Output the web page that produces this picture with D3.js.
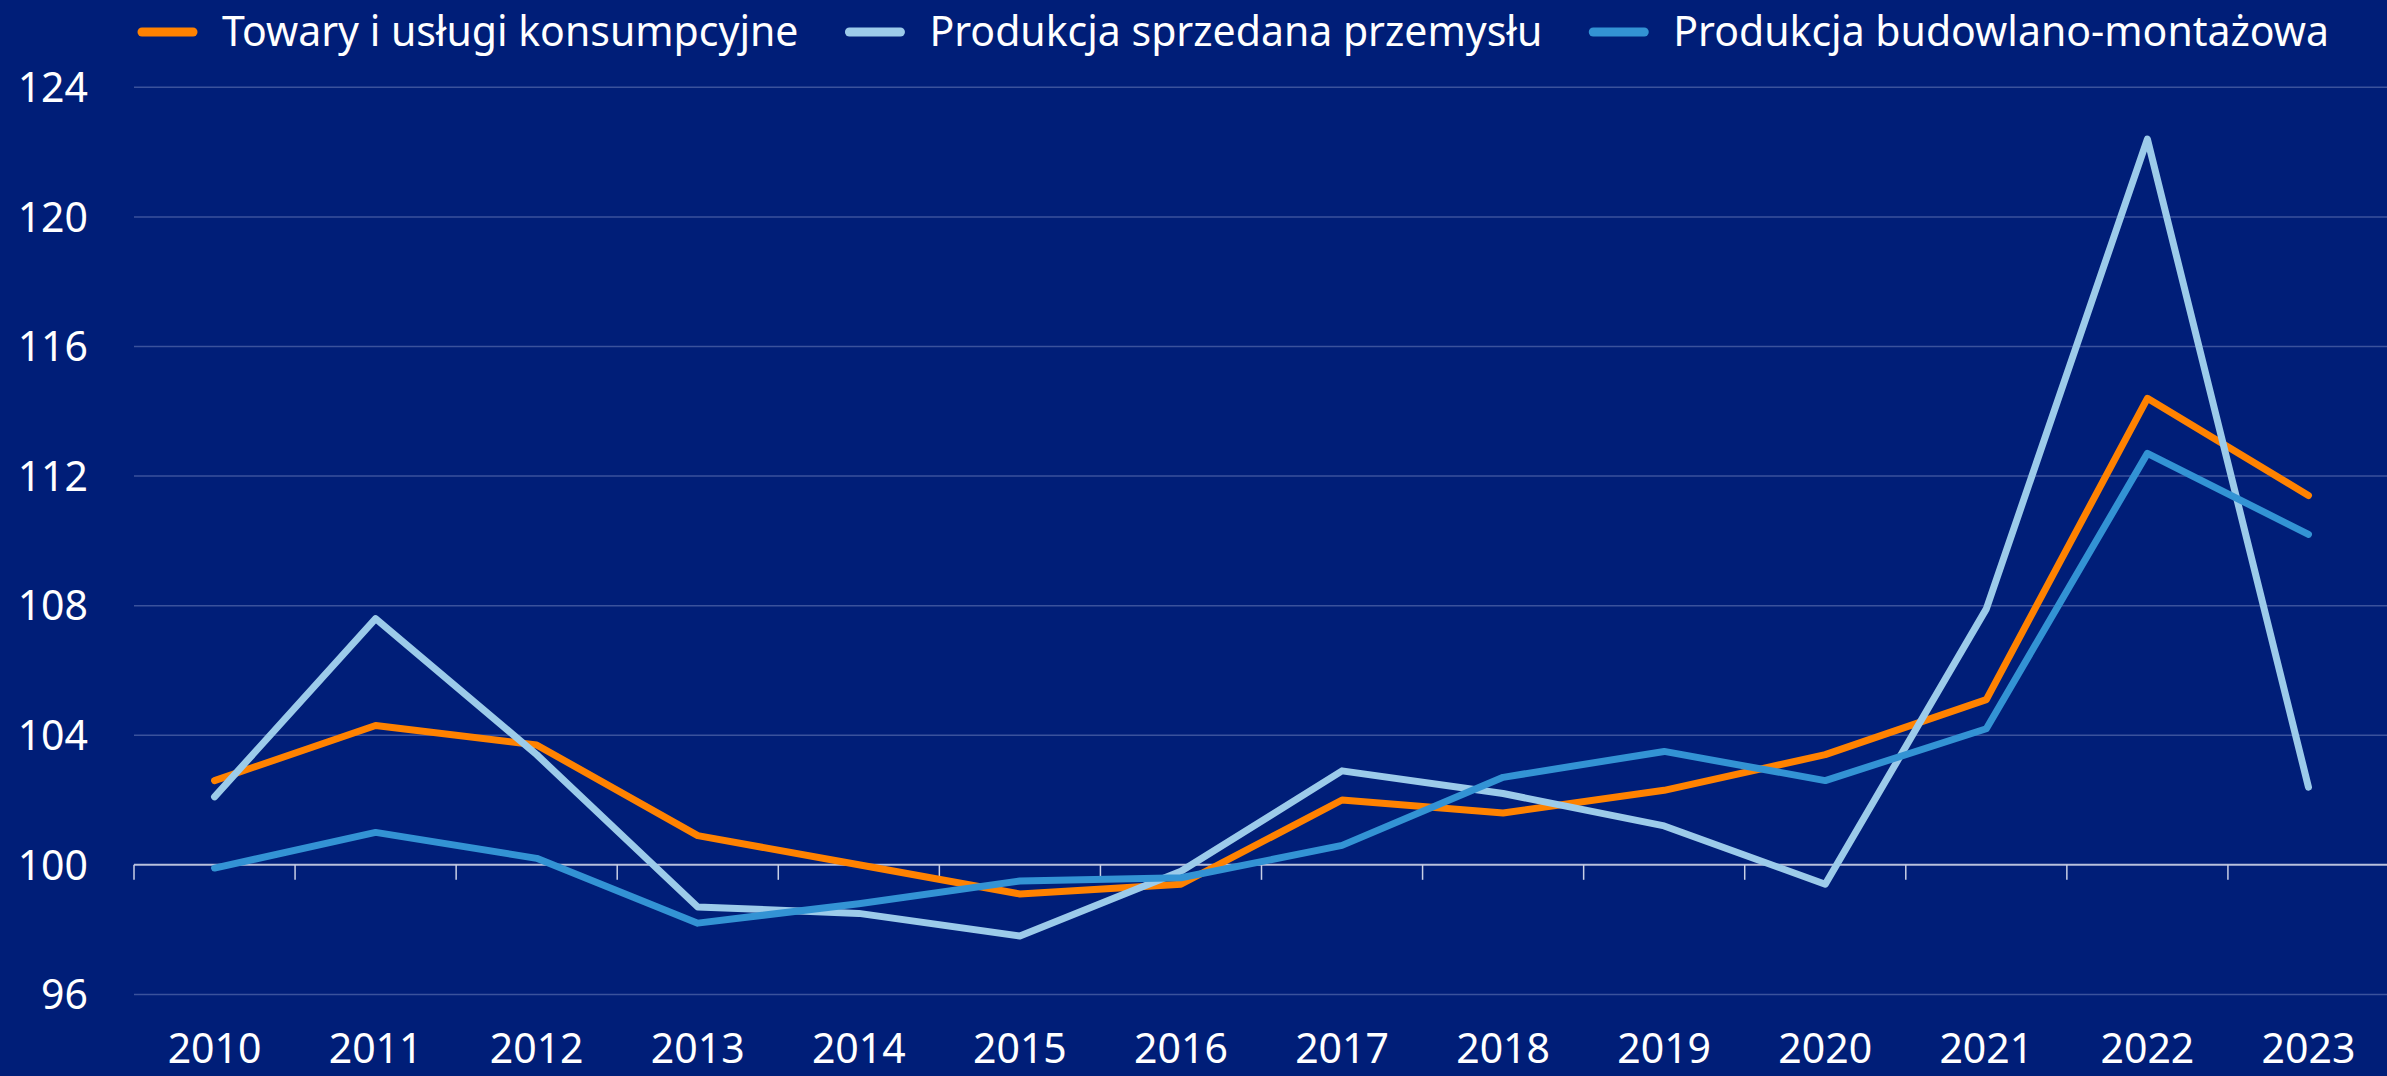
<!DOCTYPE html>
<html>
<head>
<meta charset="utf-8">
<script src="https://cdn.jsdelivr.net/npm/d3@7"></script>
<style>
    html, body { margin: 0; padding: 0; background: #001e78; }
    svg { display: block; }
    text { font-family: "Noto Sans", sans-serif; fill: #ffffff; }
</style>
</head>
<body>
<div id="chart"></div>
<script>
// Years on the x axis
const years = ['2010', '2011', '2012', '2013', '2014', '2015', '2016',
    '2017', '2018', '2019', '2020', '2021', '2022', '2023'];

// Series values (previous year = 100)
const towary = [102.6, 104.3, 103.7, 100.9, 100.0, 99.1, 99.4, 102.0, 101.6, 102.3, 103.4, 105.1, 114.4, 111.4];
const przemysl = [102.1, 107.6, 103.4, 98.7, 98.5, 97.8, 99.8, 102.9, 102.2, 101.2, 99.4, 107.9, 122.4, 102.4];
const budowlano = [99.9, 101.0, 100.2, 98.2, 98.8, 99.5, 99.6, 100.6, 102.7, 103.5, 102.6, 104.2, 112.7, 110.2];

const seriesNames = ['Towary i usługi konsumpcyjne', 'Produkcja sprzedana przemysłu', 'Produkcja budowlano-montażowa'];
const seriesColors = ['#ff8200', '#9ccbea', '#3393d4'];

// Y axis tick labels
const yTicks = [96, 100, 104, 108, 112, 116, 120, 124];

const width = 2387;
const height = 1076;

const svg = d3.select("#chart")
    .append("svg")
    .attr("width", width)
    .attr("height", height);

const x = d3.scaleBand()
    .domain(years)
    .range([134, 2389]);

const y = d3.scaleLinear()
    .domain([96, 124])
    .range([994.4, 87.3]);

// Grid lines
svg.append("g")
    .selectAll("line")
    .data(yTicks.filter(d => d !== 100))
    .enter()
    .append("line")
    .attr("x1", 134)
    .attr("x2", width)
    .attr("y1", d => y(d))
    .attr("y2", d => y(d))
    .attr("stroke", "#3a529c")
    .attr("stroke-width", 1.5);

// Y labels
svg.append("g")
    .selectAll("text")
    .data(yTicks)
    .enter()
    .append("text")
    .attr("x", 88)
    .attr("y", d => y(d))
    .attr("dy", "0.36em")
    .attr("text-anchor", "end")
    .style("font-size", "41px")
    .text(d => d);

// Category axis sits on the 100 line
const xAxis = svg.append("g")
    .attr("transform", "translate(0," + y(100) + ")");

xAxis.append("line")
    .attr("x1", 134)
    .attr("x2", width)
    .attr("stroke", "#b9c1dc")
    .attr("stroke-width", 2);

xAxis.selectAll(".tick")
    .data(years.concat(['end']))
    .enter()
    .append("line")
    .attr("class", "tick")
    .attr("x1", function (d, i) { return i < years.length ? x(d) : x.range()[1]; })
    .attr("x2", function (d, i) { return i < years.length ? x(d) : x.range()[1]; })
    .attr("y1", 0)
    .attr("y2", 15)
    .attr("stroke", "#c8cfe6")
    .attr("stroke-width", 1.5);

// X labels at the bottom
svg.append("g")
    .selectAll("text")
    .data(years)
    .enter()
    .append("text")
    .attr("x", d => x(d) + x.bandwidth() / 2)
    .attr("y", 1063)
    .attr("text-anchor", "middle")
    .style("font-size", "41px")
    .text(d => d);

// Lines
const allSeries = [towary, przemysl, budowlano];

const line = d3.line()
    .x(function (d, i) { return x(years[i]) + x.bandwidth() / 2; })
    .y(function (d) { return y(d); });

svg.append("g")
    .selectAll("path")
    .data(allSeries)
    .enter()
    .append("path")
    .attr("d", d => line(d))
    .attr("fill", "none")
    .attr("stroke", (d, i) => seriesColors[i])
    .attr("stroke-width", 7)
    .attr("stroke-linejoin", "round")
    .attr("stroke-linecap", "round");

// Legend
const legend = svg.append("g");
let lx = 138;
seriesNames.forEach(function (name, i) {
    legend.append("line")
        .attr("x1", lx + 4)
        .attr("x2", lx + 55)
        .attr("y1", 32)
        .attr("y2", 32)
        .attr("stroke", seriesColors[i])
        .attr("stroke-width", 9)
        .attr("stroke-linecap", "round");
    const t = legend.append("text")
        .attr("x", lx + 84)
        .attr("y", 46)
        .style("font-size", "41px")
        .text(name);
    lx = lx + 84 + t.node().getComputedTextLength() + 47;
});
</script>
</body>
</html>
